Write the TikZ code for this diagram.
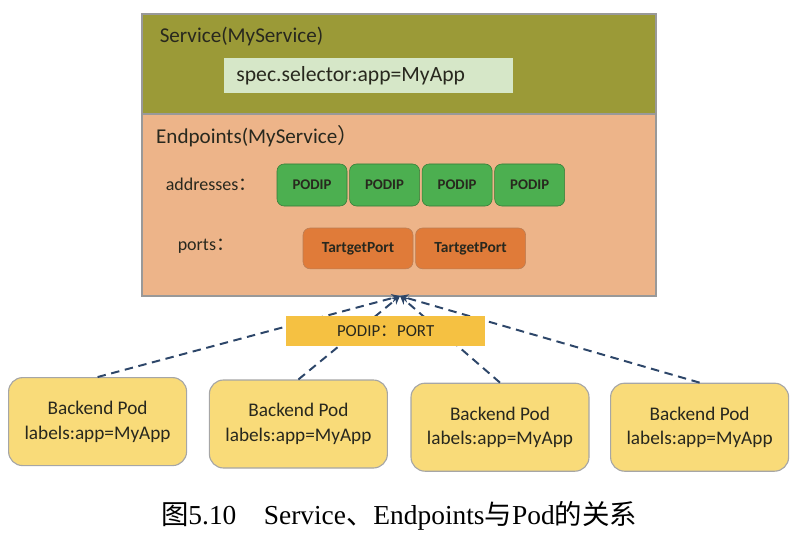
\documentclass[tikz,border=0pt]{standalone}
\usepackage{fontspec}
\setmainfont{Carlito}
\newfontfamily\cjk{Noto Sans CJK SC}
\newfontfamily\capfont{Liberation Serif}
\usetikzlibrary{positioning,arrows.meta}

\definecolor{olive}{RGB}{155,154,55}
\definecolor{selgreen}{RGB}{214,231,200}
\definecolor{peach}{RGB}{237,180,137}
\definecolor{ipgreen}{RGB}{76,175,80}
\definecolor{portorange}{RGB}{224,123,57}
\definecolor{gold}{RGB}{245,193,66}
\definecolor{podyellow}{RGB}{249,219,121}
\definecolor{navy}{RGB}{45,70,105}
\definecolor{ink}{RGB}{40,40,30}

\begin{document}
\begin{tikzpicture}[
    every node/.style={text=ink},
    bigbox/.style={draw=gray!80, line width=0.8pt, minimum width=12.85cm, inner sep=0pt},
    ipbox/.style={draw=ipgreen!70!black, fill=ipgreen, rounded corners=5pt, minimum width=1.75cm,
      minimum height=1.05cm, font=\fontsize{10.5}{12}\selectfont\bfseries},
    portbox/.style={draw=portorange!60!gray, fill=portorange, rounded corners=5pt, minimum width=2.75cm,
      minimum height=1.02cm, font=\fontsize{11}{12}\selectfont\bfseries},
    podbox/.style={draw=gray!70, line width=0.8pt, fill=podyellow, rounded corners=10pt, minimum width=4.45cm,
      minimum height=2.2cm, align=center, font=\fontsize{13.7}{17.5}\selectfont},
    link/.style={navy, dashed, line width=1.4pt, dash pattern=on 6pt off 4pt, -{Stealth[length=6pt,width=6pt]}}
  ]
  \useasboundingbox (0,0) rectangle (19.95,-13.4);

  % Service
  \node[bigbox, fill=olive, minimum height=2.5cm] (service) at (9.975,-1.6) {};
  \node[anchor=west, font=\fontsize{15}{17}\selectfont] (svclabel) at (3.87,-0.9) {Service(MyService)};
  \node[fill=selgreen, minimum width=7.22cm, minimum height=0.87cm, text width=6.6cm,
    font=\fontsize{15.4}{17}\selectfont] (selector) at (9.21,-1.89) {spec.selector:app=MyApp};

  % Endpoints
  \node[bigbox, fill=peach, minimum height=4.55cm] (endpoints) at (9.975,-5.125) {};
  \node[anchor=west, font=\fontsize{15}{17}\selectfont] (eplabel) at (3.78,-3.4) {Endpoints(MyService{\cjk ）}};
  \node[anchor=west, font=\fontsize{12.8}{14}\selectfont] (addrlabel) at (4.02,-4.6) {addresses{\cjk ：}};
  \node[anchor=west, font=\fontsize{12.8}{14}\selectfont] (portlabel) at (4.32,-6.15) {ports{\cjk ：}};

  \node[ipbox] (ip1) at (7.8,-4.625) {PODIP};
  \node[ipbox, right=0.05cm of ip1] (ip2) {PODIP};
  \node[ipbox, right=0.05cm of ip2] (ip3) {PODIP};
  \node[ipbox, right=0.05cm of ip3] (ip4) {PODIP};

  \node[portbox] (port1) at (8.95,-6.21) {TartgetPort};
  \node[portbox, right=0.05cm of port1] (port2) {TartgetPort};

  \coordinate (tip) at (10,-7.4);

  % Pods
  \node[podbox] (pod1) at (2.44,-10.54) {Backend Pod\\labels:app=MyApp};
  \node[podbox] (pod2) at (7.46,-10.6) {Backend Pod\\labels:app=MyApp};
  \node[podbox] (pod3) at (12.5,-10.68) {Backend Pod\\labels:app=MyApp};
  \node[podbox] (pod4) at (17.49,-10.68) {Backend Pod\\labels:app=MyApp};

  \foreach \p in {pod1,pod2,pod3,pod4}{
    \draw[link] (\p.north) -- (tip);
  }

  \node[fill=gold, minimum width=4.97cm, minimum height=0.75cm, font=\fontsize{12}{13}\selectfont]
    (podport) at (9.64,-8.275) {PODIP{\cjk ：}PORT};

  % legende
  \node[font=\fontsize{19.5}{21}\selectfont\capfont, text=black] (caption) at (9.975,-12.9)
    {{\cjk 图}5.10\quad Service{\cjk 、}Endpoints{\cjk 与}Pod{\cjk 的关系}};
\end{tikzpicture}
\end{document}
